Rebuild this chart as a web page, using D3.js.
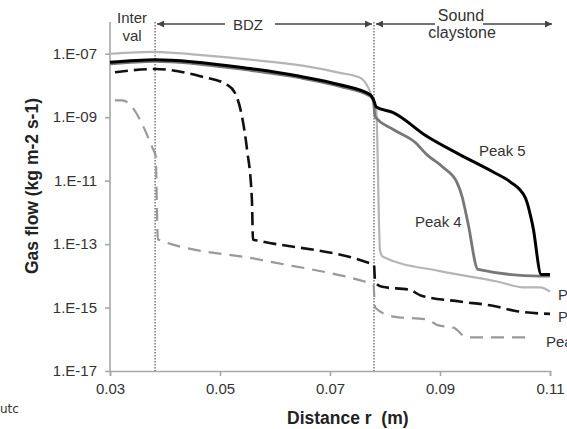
<!DOCTYPE html>
<html>
<head>
<meta charset="utf-8">
<script src="https://cdn.jsdelivr.net/npm/d3@7"></script>
<style>
  body { margin: 0; background: #fff; }
  svg { font-family: "Liberation Sans", Arial, sans-serif; }
</style>
</head>
<body>
<div id="chart"></div>
<script>
// tick values and labels
const xTicks = [0.03, 0.05, 0.07, 0.09, 0.11]
const xTickLabels = ["0.03", "0.05", "0.07", "0.09", "0.11"]
const yTicks = [1e-17, 1e-15, 1e-13, 1e-11, 1e-9, 1e-7]
const yTickLabels = ["1.E-17", "1.E-15", "1.E-13", "1.E-11", "1.E-09", "1.E-07"]

// zone boundaries (m)
const zoneBounds = [0.03, 0.0382, 0.078, 0.11]

// series, [distance r, gas flow]
const peak1 = [[0.0309, 3.4e-9], [0.0322, 3.4e-9], [0.0378, 1.0e-10], [0.0383, 6.0e-11],
  [0.0387, 1.4e-13], [0.0573, 3.2e-14], [0.0769, 6.2e-15], [0.0779, 5.5e-15],
  [0.0782, 1.0e-15], [0.0815, 5.2e-16], [0.0876, 4.2e-16], [0.0896, 2.8e-16],
  [0.0925, 2.3e-16], [0.0949, 1.15e-16], [0.1058, 1.15e-16]]

const peak2 = [[0.0309, 2.6e-8], [0.0382, 3.3e-8], [0.0464, 1.95e-8], [0.0513, 1.05e-8],
  [0.0527, 5.9e-9], [0.054, 1.05e-9], [0.0549, 1.0e-10], [0.0558, 2.5e-12],
  [0.056, 1.4e-13], [0.0573, 1.25e-13], [0.0773, 2.45e-14], [0.078, 2.2e-14],
  [0.0782, 6.3e-15], [0.0795, 4.5e-15], [0.0845, 3.6e-15], [0.0865, 2.4e-15],
  [0.0936, 1.55e-15], [0.1, 1.1e-15], [0.1035, 7.9e-16], [0.11, 6.3e-16]]

const peak3 = [[0.03, 1.0e-7], [0.0382, 1.15e-7], [0.045, 9.5e-8], [0.0555, 6.5e-8],
  [0.065, 4.2e-8], [0.0718, 2.5e-8], [0.0755, 1.75e-8], [0.0769, 8.9e-9],
  [0.0775, 5.0e-9], [0.0784, 1.8e-9], [0.0791, 6.3e-14], [0.0796, 4.0e-14],
  [0.09, 1.4e-14], [0.1004, 6.6e-15], [0.1055, 4.3e-15], [0.1082, 4.3e-15], [0.11, 3.2e-15]]

const peak4 = [[0.03, 4.8e-8], [0.0382, 5.8e-8], [0.0555, 3.0e-8], [0.0645, 1.75e-8],
  [0.0718, 9.4e-9], [0.0773, 4.6e-9], [0.0779, 3.2e-9], [0.0782, 1.05e-9],
  [0.0815, 4.1e-10], [0.0855, 1.6e-10], [0.0876, 6.6e-11], [0.0906, 2.6e-11],
  [0.0931, 8.7e-12], [0.094, 3.2e-12], [0.0951, 4.5e-13], [0.0969, 1.6e-14],
  [0.1082, 9.8e-15], [0.11, 9.8e-15]]

const peak5 = [[0.03, 5.4e-8], [0.0382, 6.5e-8], [0.0555, 3.4e-8], [0.0645, 1.95e-8],
  [0.0718, 1.05e-8], [0.0773, 5.1e-9], [0.0779, 3.6e-9], [0.0784, 2.1e-9],
  [0.0815, 1.4e-9], [0.0876, 2.5e-10], [0.0936, 6.6e-11], [0.0996, 1.9e-11],
  [0.1027, 9.3e-12], [0.1055, 2.9e-12], [0.1069, 3.5e-13], [0.1084, 1.1e-14], [0.11, 1.1e-14]]

const width = 567, height = 429
const margin = {top: 22, right: 17, bottom: 58, left: 110}

const x = d3.scaleLinear()
  .domain([0.03, 0.11])
  .range([margin.left, width - margin.right])

const y = d3.scaleLog()
  .domain([1e-17, 1e-6])
  .range([height - margin.bottom, margin.top])

const svg = d3.select('#chart')
  .append('svg')
    .attr('width', width)
    .attr('height', height)

const textCol = '#333'
const axisCol = '#a8a8a8'

// axes
const gx = svg.append('g')
  .attr('transform', `translate(0,${y(1e-17)})`)
  .call(d3.axisBottom(x).tickValues(xTicks).tickSize(5).tickPadding(7)
    .tickFormat((d, i) => xTickLabels[i]))
gx.selectAll('text').attr('font-size', 15).attr('fill', textCol).attr('font-family', null)
gx.selectAll('line, path').attr('stroke', axisCol).attr('stroke-width', 1.6)

const gy = svg.append('g')
  .attr('transform', `translate(${x(0.03)},0)`)
  .call(d3.axisLeft(y).tickValues(yTicks).tickSize(5).tickPadding(8)
    .tickFormat((d, i) => yTickLabels[i]))
gy.selectAll('text').attr('font-size', 15).attr('fill', textCol).attr('font-family', null)
gy.selectAll('line, path').attr('stroke', axisCol).attr('stroke-width', 1.6)
gy.select('.domain').attr('d', `M0,${y(1e-6)}V${y(1e-17)}`)

// zone dividers
svg.append('g')
  .selectAll('line')
  .data(zoneBounds.slice(1, 3))
  .enter().append('line')
    .attr('x1', d => x(d)).attr('x2', d => x(d))
    .attr('y1', y(1e-6)).attr('y2', y(1e-17))
    .attr('stroke', '#555')
    .attr('stroke-width', 1.2)
    .attr('stroke-dasharray', '1.5,1.5')

// series
const line = d3.line()
  .x(d => x(d[0]))
  .y(d => y(d[1]))
  .curve(d3.curveMonotoneX)

const series = [
  {data: peak3, color: '#b5b5b5', w: 2.2, dash: null},
  {data: peak1, color: '#999', w: 2.2, dash: '13,8'},
  {data: peak2, color: '#111', w: 2.6, dash: '13,6'},
  {data: peak4, color: '#777', w: 2.8, dash: null},
  {data: peak5, color: '#000', w: 3, dash: null}
]

svg.append('g')
  .selectAll('path')
  .data(series)
  .enter().append('path')
    .attr('fill', 'none')
    .attr('stroke', d => d.color)
    .attr('stroke-width', d => d.w)
    .attr('stroke-dasharray', d => d.dash)
    .attr('stroke-linejoin', 'round')
    .attr('d', d => line(d.data))

// zone annotations
const ann = svg.append('g').attr('fill', textCol).attr('font-size', 15).attr('text-anchor', 'middle')
ann.append('text').attr('x', 132).attr('y', 23).text('Inter')
ann.append('text').attr('x', 132).attr('y', 41).text('val')
ann.append('text').attr('x', 248).attr('y', 30).text('BDZ')
ann.append('text').attr('x', 461).attr('y', 21).attr('font-size', 16).text('Sound')
ann.append('text').attr('x', 462).attr('y', 38).attr('font-size', 16).text('claystone')

svg.append('defs').append('marker')
    .attr('id', 'head')
    .attr('viewBox', '0 0 10 10')
    .attr('refX', 10).attr('refY', 5)
    .attr('markerWidth', 8).attr('markerHeight', 7)
    .attr('markerUnits', 'userSpaceOnUse')
    .attr('orient', 'auto')
  .append('path')
    .attr('d', 'M0,0L10,5L0,10Z')
    .attr('fill', '#444')

const arrowY = 24
const arrows = [
  [x(zoneBounds[1]) + 2, 225], [275, x(zoneBounds[2]) - 2],
  [x(zoneBounds[2]) + 2, 435], [483, x(zoneBounds[3]) + 2]
]
svg.append('g')
  .selectAll('line')
  .data(arrows)
  .enter().append('line')
    .attr('x1', (d, i) => i % 2 ? d[0] : d[1])
    .attr('x2', (d, i) => i % 2 ? d[1] : d[0])
    .attr('y1', arrowY).attr('y2', arrowY)
    .attr('stroke', '#444')
    .attr('stroke-width', 1.5)
    .attr('marker-end', 'url(#head)')

// peak labels (right ones run off the edge, as in the source figure)
const lab = svg.append('g').attr('fill', textCol).attr('font-size', 15)
lab.append('text').attr('x', 479).attr('y', 156).text('Peak 5')
lab.append('text').attr('x', 415).attr('y', 227).text('Peak 4')
lab.append('text').attr('x', 558).attr('y', 300).text('Peak 3')
lab.append('text').attr('x', 558).attr('y', 322).text('Peak 2')
lab.append('text').attr('x', 546).attr('y', 347).text('Peak 1')

// axis titles
svg.append('text')
  .attr('x', 287).attr('y', 424)
  .attr('font-size', 17.5).attr('font-weight', 'bold').attr('fill', '#222')
  .style('white-space', 'pre')
  .text('Distance r  (m)')

svg.append('text')
  .attr('transform', `translate(38,186) rotate(-90)`)
  .attr('text-anchor', 'middle')
  .attr('font-size', 17.5).attr('font-weight', 'bold').attr('fill', '#222')
  .text('Gas flow (kg m-2 s-1)')

svg.append('text')
  .attr('x', 0).attr('y', 413)
  .attr('font-family', 'DejaVu Sans, sans-serif')
  .attr('font-size', 12).attr('fill', '#333')
  .text('utc')
</script>
</body>
</html>
